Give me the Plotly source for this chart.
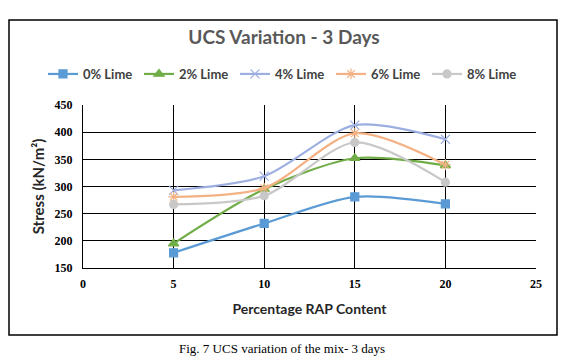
import plotly.graph_objects as go

rap = [5, 10, 15, 20]
series_names = ["0% Lime", "2% Lime", "4% Lime", "6% Lime", "8% Lime"]
lime0 = [178, 232, 281, 268]
lime2 = [195, 295, 352, 339]
lime4 = [293, 319, 413, 387]
lime6 = [281, 297, 398, 340]
lime8 = [267, 283, 381, 308]
y_ticks = [150, 200, 250, 300, 350, 400, 450]
x_ticks = [0, 5, 10, 15, 20, 25]

colors = ["#5B9BD5", "#70AD47", "#9DAFE0", "#F4B183", "#C8C8C8"]
symbols = ["square", "triangle-up", "x-thin-open", "asterisk-open", "circle"]
sizes = [8, 9, 9, 9, 8]
data = [lime0, lime2, lime4, lime6, lime8]

# The page body has an 8px default margin, so the figure is drawn 8px smaller
# and everything is placed 8px up/left of its target position.
OFF = 8
W, H = 568 - OFF, 359 - OFF
PL, PR, PT, PB = 83, 536, 105, 268  # plot-area edges in window pixels
pw, ph = PR - PL, PB - PT

fig = go.Figure()
for name, vals, c, s, sz in zip(series_names, data, colors, symbols, sizes):
    fig.add_trace(go.Scatter(
        x=rap, y=vals, name=name, mode="lines+markers",
        line=dict(color=c, width=2.2, shape="spline", smoothing=0.8),
        marker=dict(symbol=s, size=sz, color=c, line=dict(color=c, width=1.2)),
    ))

axis_font = dict(family="Liberation Serif", size=12, color="black")
fig.update_layout(
    width=W, height=H,
    margin=dict(l=PL - OFF, r=W - (PR - OFF), t=PT - OFF, b=H - (PB - OFF)),
    paper_bgcolor="white", plot_bgcolor="white",
    title=dict(text="<b>UCS Variation - 3 Days</b>", x=(284 - OFF) / W, xanchor="center",
               y=1 - (37 - OFF) / H, yanchor="middle",
               font=dict(family="Lato", size=19, color="#595959")),
    legend=dict(orientation="h", x=(43 - PL) / pw, xanchor="left",
                y=(PB - 74) / ph, yanchor="middle",
                font=dict(family="Lato", size=13, color="#404040", weight="bold"),
                itemwidth=30, entrywidth=51, entrywidthmode="pixels",
                bgcolor="rgba(0,0,0,0)"),
    xaxis=dict(range=[0, 25], tickvals=x_ticks, ticktext=[f"<b>{v}</b>" for v in x_ticks],
               showgrid=True, gridcolor="black", gridwidth=1,
               showline=True, linecolor="black", linewidth=1, zeroline=False,
               tickfont=axis_font, ticks="outside", ticklen=5, tickcolor="rgba(0,0,0,0)",
               title=dict(text="<b>Percentage RAP Content</b>", standoff=13,
                          font=dict(family="Lato", size=14, color="#262626"))),
    yaxis=dict(range=[150, 450], tickvals=y_ticks, ticktext=[f"<b>{v}</b>" for v in y_ticks],
               showgrid=True, gridcolor="black", gridwidth=1,
               showline=True, linecolor="black", linewidth=1, zeroline=False,
               tickfont=axis_font, ticks="outside", ticklen=7, tickcolor="rgba(0,0,0,0)",
               title=dict(text="<b>Stress (kN/m²)</b>", standoff=6,
                          font=dict(family="Lato", size=15, color="#262626"))),
    showlegend=True,
)

# outer chart border
fig.add_shape(type="rect", xref="paper", yref="paper",
              x0=(9 - PL) / pw, x1=(557 - PL) / pw,
              y0=(PB - 335) / ph, y1=(PB - 20) / ph,
              line=dict(color="black", width=1.5), layer="below")

fig.add_annotation(text="Fig. 7 UCS variation of the mix- 3 days",
                   xref="paper", yref="paper", x=(282 - PL) / pw,
                   y=(PB - 348) / ph, xanchor="center", yanchor="middle",
                   showarrow=False,
                   font=dict(family="Liberation Serif", size=13, color="black"))

fig.write_html("out.html")
